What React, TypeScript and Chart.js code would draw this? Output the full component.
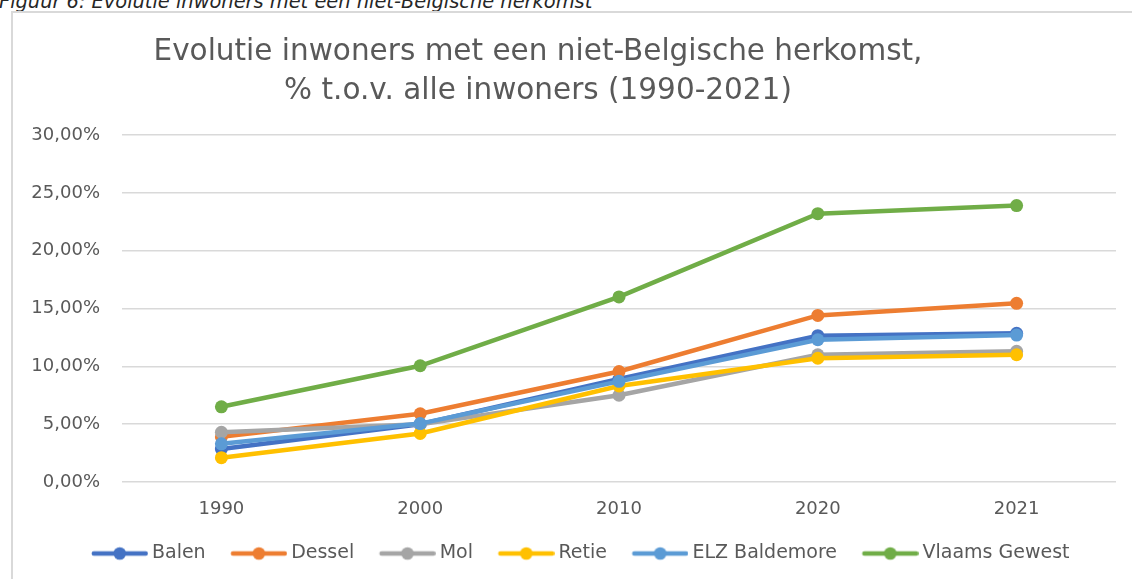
import React, { useEffect, useRef } from 'react';
import { Chart, registerables } from 'chart.js';

Chart.register(...registerables);

const categories = ['1990', '2000', '2010', '2020', '2021'];

const balen = [2.85, 5.0, 8.9, 12.65, 12.85];
const dessel = [3.9, 5.9, 9.55, 14.4, 15.45];
const mol = [4.3, 5.0, 7.5, 11.0, 11.3];
const retie = [2.1, 4.2, 8.3, 10.7, 11.0];
const elzBaldemore = [3.3, 5.05, 8.7, 12.3, 12.7];
const vlaamsGewest = [6.5, 10.05, 16.0, 23.2, 23.9];

const seriesNames = ['Balen', 'Dessel', 'Mol', 'Retie', 'ELZ Baldemore', 'Vlaams Gewest'];
const seriesValues = [balen, dessel, mol, retie, elzBaldemore, vlaamsGewest];
const seriesColors = ['#4472C4', '#ED7D31', '#A5A5A5', '#FFC000', '#5B9BD5', '#70AD47'];

const yMin = 0;
const yMax = 30;
const yStep = 5;

const captionText = 'Figuur 6: Evolutie inwoners met een niet-Belgische herkomst';
const titleLines = ['Evolutie inwoners met een niet-Belgische herkomst,', '% t.o.v. alle inwoners (1990-2021)'];

const FONT = "'DejaVu Sans', sans-serif";
const TEXT_COLOR = '#595959';
const GRID_COLOR = '#D9D9D9';

// legend marker geometry (image is centred on the legend box by Chart.js)
const LEGEND_BOX = 66;
const MARKER_IMG_W = 77;
const MARKER_START = 20.5;
const MARKER_END = 77;

function makeMarker(color: string): HTMLCanvasElement {
  const c = document.createElement('canvas');
  c.width = MARKER_IMG_W;
  c.height = 16;
  const ctx = c.getContext('2d')!;
  ctx.strokeStyle = color;
  ctx.lineWidth = 4.5;
  ctx.lineCap = 'round';
  ctx.beginPath();
  ctx.moveTo(MARKER_START + 2.3, 8);
  ctx.lineTo(MARKER_END - 2.3, 8);
  ctx.stroke();
  ctx.fillStyle = color;
  ctx.beginPath();
  ctx.arc((MARKER_START + MARKER_END) / 2, 8, 6.3, 0, Math.PI * 2);
  ctx.fill();
  return c;
}

const legendShift = {
  id: 'legendShift',
  afterLayout(chart: any) {
    if (chart.legend) {
      chart.legend.left += 15;
      chart.legend.right += 15;
    }
  },
};

export default function App() {
  const canvasRef = useRef<HTMLCanvasElement | null>(null);

  useEffect(() => {
    document.body.style.margin = '0';
    const canvas = canvasRef.current;
    if (!canvas) return;
    const markers = seriesColors.map(makeMarker);
    const n = seriesNames.length;
    const chart = new Chart(canvas, {
      type: 'line',
      data: {
        labels: categories,
        datasets: seriesNames.map((name, i) => ({
          label: name,
          data: seriesValues[i],
          borderColor: seriesColors[i],
          backgroundColor: seriesColors[i],
          borderWidth: 4.5,
          pointRadius: 6.5,
          pointHoverRadius: 6.5,
          pointBorderWidth: 0,
          pointBackgroundColor: seriesColors[i],
          tension: 0,
          fill: false,
          order: n - 1 - i,
        })),
      },
      plugins: [legendShift],
      options: {
        animation: false,
        responsive: false,
        maintainAspectRatio: false,
        layout: { padding: { left: 0, right: 16, top: 135, bottom: 6 } },
        plugins: {
          title: { display: false },
          tooltip: { enabled: false },
          legend: {
            display: true,
            position: 'bottom',
            labels: {
              usePointStyle: true,
              pointStyleWidth: LEGEND_BOX,
              padding: 10,
              color: TEXT_COLOR,
              font: { family: FONT, size: 19 },
              generateLabels: (ch: any) =>
                ch.data.datasets.map((ds: any, i: number) => ({
                  text: ds.label,
                  pointStyle: markers[i],
                  fillStyle: ds.borderColor,
                  strokeStyle: ds.borderColor,
                  lineWidth: 0,
                  hidden: false,
                  datasetIndex: i,
                  fontColor: TEXT_COLOR,
                })),
            },
          },
        },
        scales: {
          x: {
            type: 'category',
            offset: true,
            grid: { display: false, drawTicks: false },
            border: { display: false },
            ticks: {
              color: TEXT_COLOR,
              font: { family: FONT, size: 18 },
              padding: 17,
              maxRotation: 0,
            },
            afterFit: (scale: any) => {
              scale.height = 52;
            },
          },
          y: {
            min: yMin,
            max: yMax,
            grid: { color: GRID_COLOR, lineWidth: 1.5, drawTicks: false },
            border: { display: false },
            ticks: {
              stepSize: yStep,
              color: TEXT_COLOR,
              font: { family: FONT, size: 18 },
              padding: 22,
              callback: (v: any) => Number(v).toFixed(2).replace('.', ',') + '%',
            },
            afterFit: (scale: any) => {
              scale.width = 122;
            },
          },
        },
      },
    });
    return () => chart.destroy();
  }, []);

  return (
    <div style={{ position: 'fixed', left: 0, top: 0, width: 1132, height: 579, overflow: 'hidden', background: '#fff' }}>
      <div
        style={{
          position: 'absolute',
          left: -1,
          top: -8,
          fontFamily: FONT,
          fontStyle: 'italic',
          fontSize: 19.4,
          lineHeight: '20px',
          color: '#262626',
          whiteSpace: 'nowrap',
        }}
      >
        {captionText}
      </div>
      <div
        style={{
          position: 'absolute',
          left: 11,
          top: 11,
          width: 1200,
          height: 600,
          borderLeft: `2px solid ${GRID_COLOR}`,
          borderTop: `2px solid ${GRID_COLOR}`,
        }}
      />
      <canvas ref={canvasRef} width={1132} height={579} style={{ position: 'absolute', left: 0, top: 0, width: 1132, height: 579 }} />
      <div
        style={{
          position: 'absolute',
          left: 0,
          top: 31,
          width: 1076,
          textAlign: 'center',
          fontFamily: FONT,
          fontSize: 29.5,
          lineHeight: '39px',
          color: TEXT_COLOR,
          whiteSpace: 'nowrap',
        }}
      >
        <div>{titleLines[0]}</div>
        <div>{titleLines[1]}</div>
      </div>
    </div>
  );
}
